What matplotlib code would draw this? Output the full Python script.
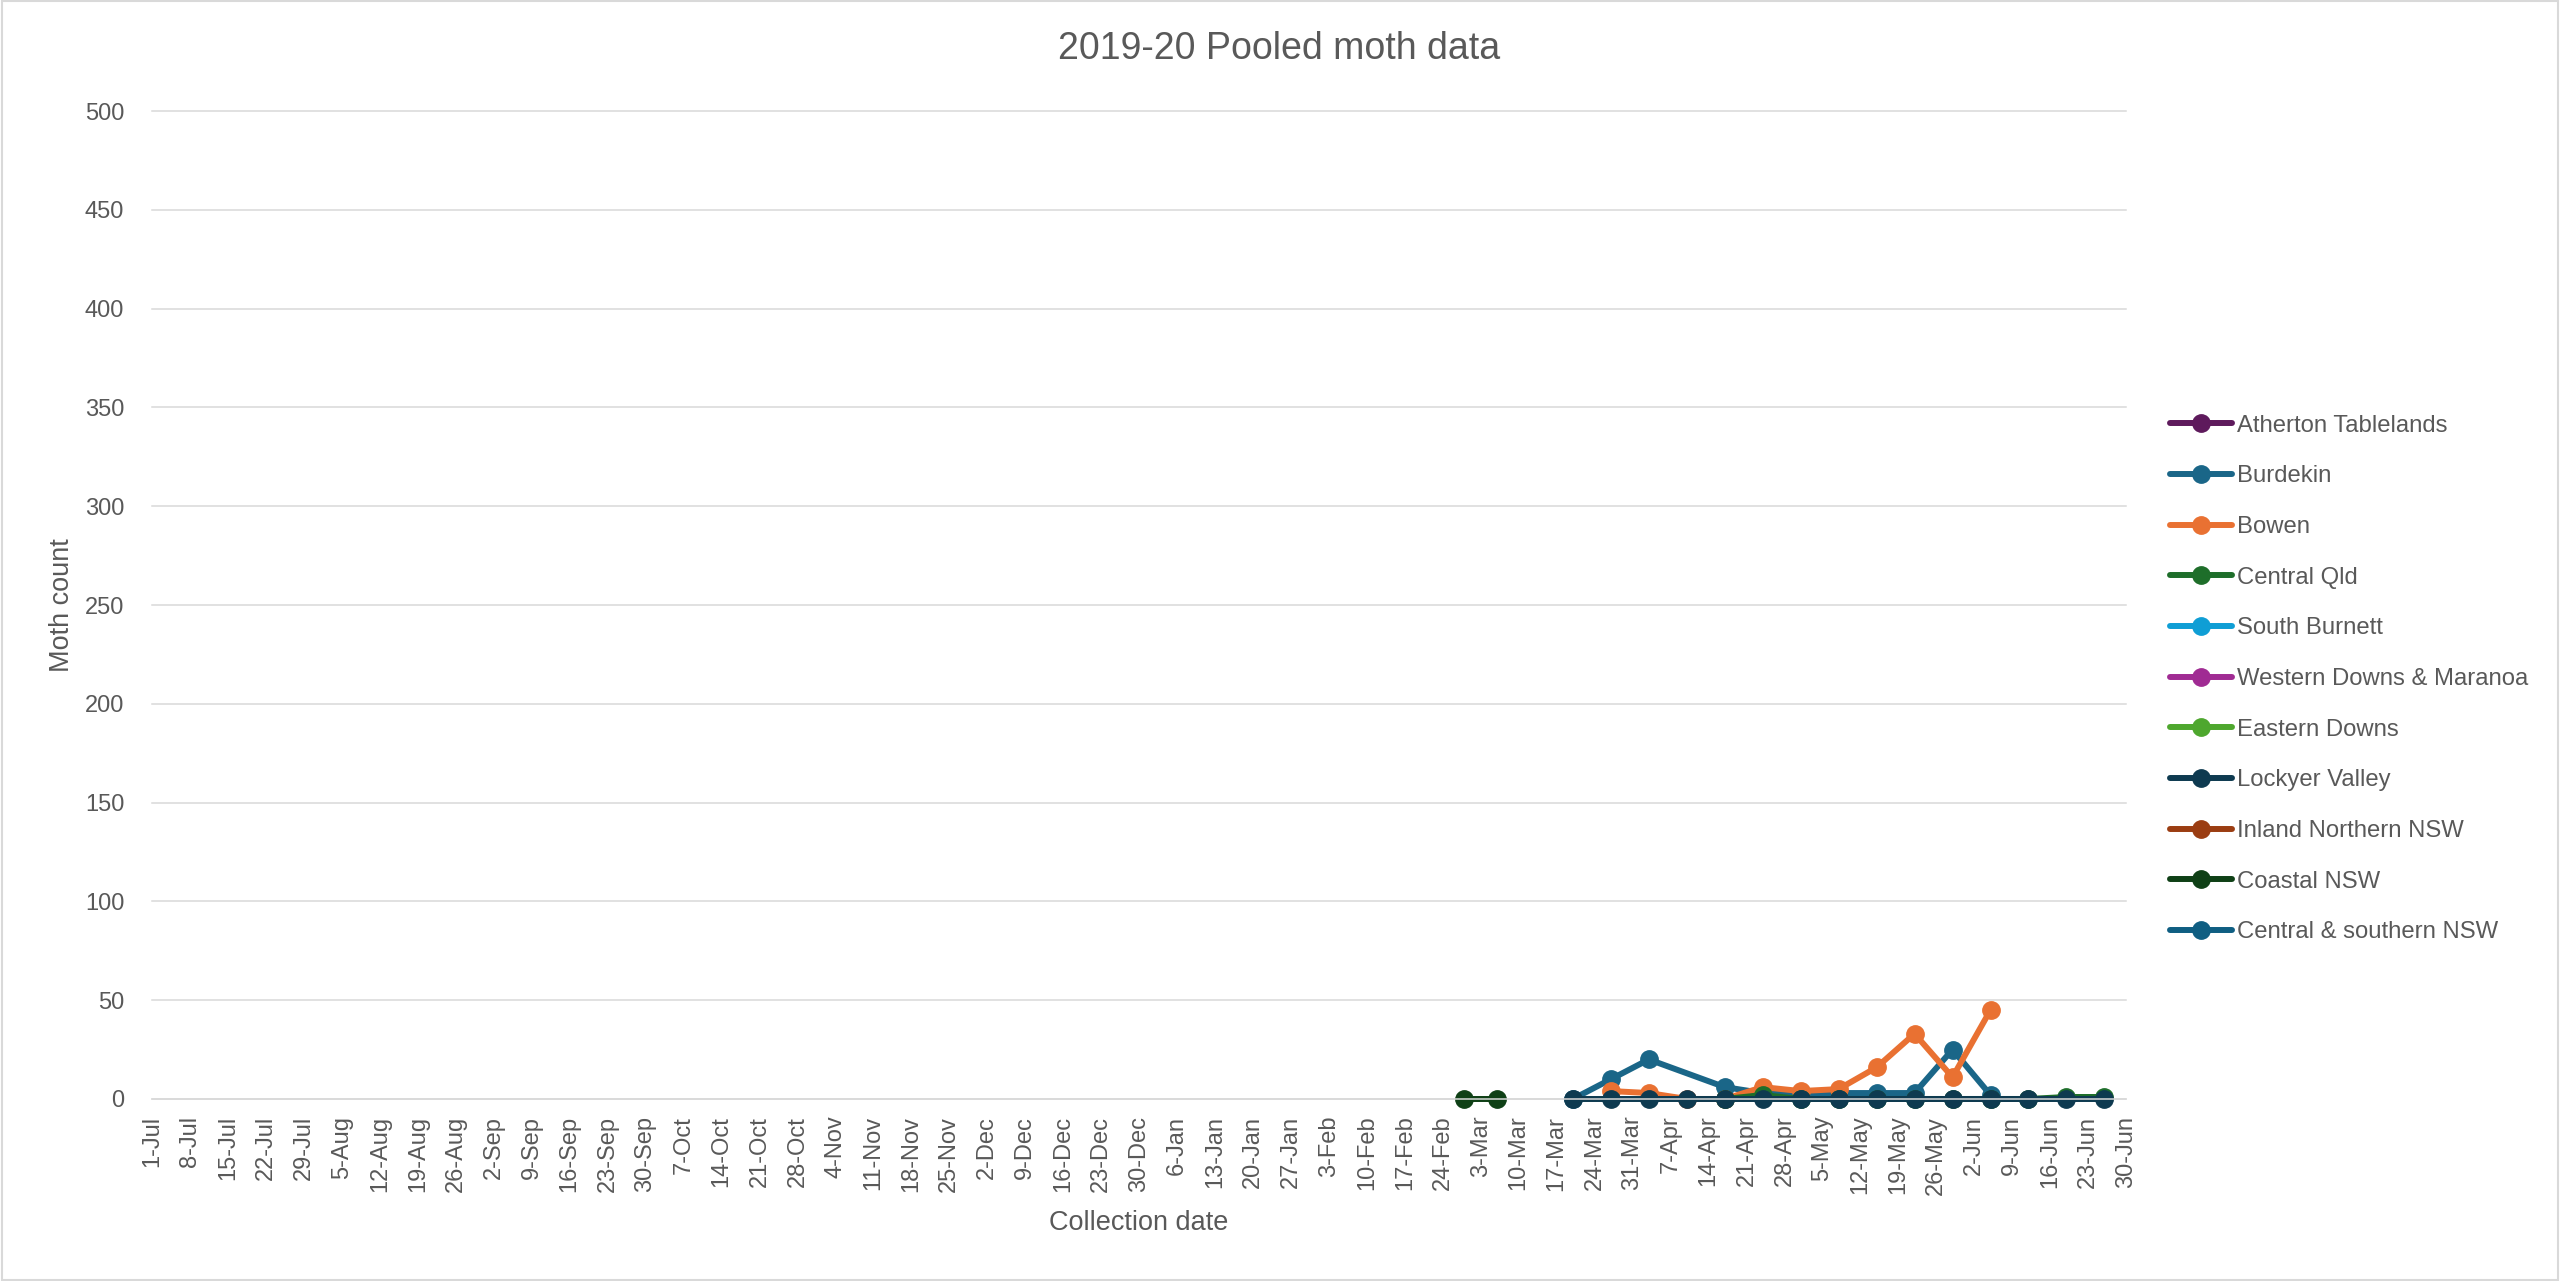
import matplotlib.pyplot as plt
import matplotlib.dates as mdates
from matplotlib.patches import Rectangle
from matplotlib.ticker import FuncFormatter
from datetime import datetime, timedelta

# collection dates as they sit in the workbook (non-leap year, so 24-Feb + 7 = 3-Mar)
season_start = "1-Jul"
season_end = "30-Jun"

series_names = ["Atherton Tablelands", "Burdekin", "Bowen", "Central Qld", "South Burnett",
                "Western Downs & Maranoa", "Eastern Downs", "Lockyer Valley",
                "Inland Northern NSW", "Coastal NSW", "Central & southern NSW"]
series_colors = ["#5E1A5C", "#1A6688", "#E97132", "#1E6E2A", "#0F9ED5",
                 "#A02B93", "#4EA72E", "#0E3A50", "#9B3D12", "#0F4016", "#0F5E82"]

atherton_dates, atherton_counts = [], []

burdekin_dates = ["20-Mar", "27-Mar", "3-Apr", "17-Apr", "24-Apr", "1-May", "8-May",
                  "15-May", "22-May", "29-May", "5-Jun"]
burdekin_counts = [0, 10, 20, 6, 3, 3, 3, 3, 3, 25, 2]

bowen_dates = ["27-Mar", "3-Apr", "10-Apr", "17-Apr", "24-Apr", "1-May", "8-May",
               "15-May", "22-May", "29-May", "5-Jun"]
bowen_counts = [4, 3, 0, 0, 6, 4, 5, 16, 33, 11, 45]

central_qld_dates = ["17-Apr", "24-Apr", "1-May", "8-May", "15-May", "22-May", "29-May",
                     "5-Jun", "12-Jun", "19-Jun", "26-Jun"]
central_qld_counts = [0, 2, 0, 0, 0, 0, 0, 0, 0, 1, 1]

south_burnett_dates, south_burnett_counts = [], []
western_downs_dates, western_downs_counts = [], []
eastern_downs_dates, eastern_downs_counts = [], []

lockyer_dates = ["20-Mar", "27-Mar", "3-Apr", "10-Apr", "17-Apr", "24-Apr", "1-May", "8-May",
                 "15-May", "22-May", "29-May", "5-Jun", "12-Jun", "19-Jun", "26-Jun"]
lockyer_counts = [0, 0, 0, 0, 0, 0, 0, 0, 0, 0, 0, 0, 0, 0, 0]

inland_nsw_dates, inland_nsw_counts = [], []

coastal_nsw_dates = ["28-Feb", "6-Mar"]
coastal_nsw_counts = [0, 0]

central_southern_nsw_dates, central_southern_nsw_counts = [], []

all_dates = [atherton_dates, burdekin_dates, bowen_dates, central_qld_dates, south_burnett_dates,
             western_downs_dates, eastern_downs_dates, lockyer_dates, inland_nsw_dates,
             coastal_nsw_dates, central_southern_nsw_dates]
all_counts = [atherton_counts, burdekin_counts, bowen_counts, central_qld_counts,
              south_burnett_counts, western_downs_counts, eastern_downs_counts, lockyer_counts,
              inland_nsw_counts, coastal_nsw_counts, central_southern_nsw_counts]


def to_date(s):
    d = datetime.strptime(s, "%d-%b")
    return d.replace(year=2018 if d.month >= 7 else 2019)


plt.rcParams['font.family'] = ['Liberation Sans', 'DejaVu Sans']
text_color = "#595959"
grid_color = "#D9D9D9"

fig = plt.figure(figsize=(25.6, 12.81), dpi=100)
ax = fig.add_axes([0.0594, 0.1421, 0.7711, 0.7712])

for name, color, ds, cs in zip(series_names, series_colors, all_dates, all_counts):
    ax.plot([to_date(d) for d in ds], cs, color=color, lw=4.3, marker="o", ms=12.5,
            mec=color, mfc=color, label=name, clip_on=False, solid_capstyle="round")

x0, x1 = to_date(season_start), to_date(season_end)
ax.set_xlim(x0, x1)
ax.set_ylim(0, 500)
ax.set_yticks(range(0, 501, 50))
ax.set_xticks([x0 + timedelta(days=7 * k) for k in range(53)])
ax.xaxis.set_major_formatter(FuncFormatter(
    lambda v, p: f"{mdates.num2date(v).day}-{mdates.num2date(v):%b}"))

ax.yaxis.grid(True, color=grid_color, lw=1.1)
for gl in ax.get_ygridlines():
    gl.set_clip_on(False)
ax.set_axisbelow(True)
for side in ["top", "right", "left"]:
    ax.spines[side].set_visible(False)
ax.spines["bottom"].set_color(grid_color)
ax.spines["bottom"].set_linewidth(1.1)

ax.tick_params(axis="x", length=0, pad=12, labelsize=17, labelcolor=text_color, rotation=90)
ax.tick_params(axis="y", length=0, pad=20, labelsize=17, labelcolor=text_color)

ax.set_xlabel("Collection date", fontsize=19.5, color=text_color)
ax.set_ylabel("Moth count", fontsize=19.5, color=text_color)
ax.xaxis.set_label_coords(0.5, -0.112)
ax.yaxis.set_label_coords(-0.039, 0.5)

fig.text(0.4996, 0.9617, "2019-20 Pooled moth data", ha="center", va="center",
         fontsize=27, color=text_color)

ax.legend(loc="center left", bbox_to_anchor=(2170 / 2560, 0.470), bbox_transform=fig.transFigure,
          frameon=False, fontsize=17.2, labelcolor=text_color, numpoints=1,
          handlelength=2.6, handletextpad=0.2, labelspacing=1.2, borderpad=0, borderaxespad=0)

fig.add_artist(Rectangle((0.0006, 0.001), 0.9988, 0.998, transform=fig.transFigure,
                         fill=False, edgecolor=grid_color, lw=1.5))

fig.savefig("out.png", dpi=100)
